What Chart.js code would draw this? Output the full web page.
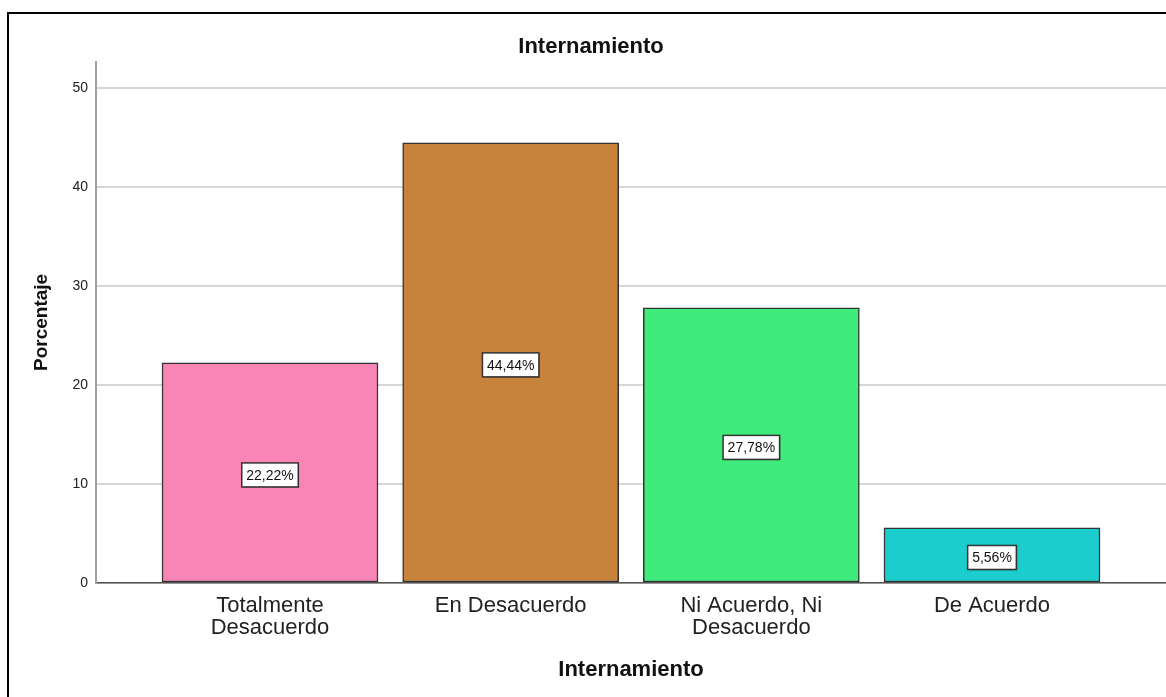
<!DOCTYPE html>
<html>
<head>
<meta charset="utf-8">
<script src="https://cdn.jsdelivr.net/npm/chart.js@4.4.0/dist/chart.umd.min.js"></script>
<style>
  html, body { margin: 0; padding: 0; background: #ffffff; }
  #wrap { position: relative; width: 1166px; height: 697px; overflow: hidden; }
  #frame { position: absolute; left: 7px; top: 12px; width: 1300px; height: 800px;
           border-left: 2px solid #000; border-top: 2px solid #000; }
  #c { position: absolute; left: 0; top: 0; }
</style>
</head>
<body>
<div id="wrap">
  <div id="frame"></div>
  <canvas id="c" width="1166" height="697"></canvas>
</div>
<script>
// ---- data ----
const categories = [['Totalmente', 'Desacuerdo'], 'En Desacuerdo', ['Ni Acuerdo, Ni', 'Desacuerdo'], 'De Acuerdo'];
const percentages = [22.22, 44.44, 27.78, 5.56];
const yTicks = [0, 10, 20, 30, 40, 50];
const chartTitle = 'Internamiento';
const xTitle = 'Internamiento';
const yTitle = 'Porcentaje';
const barColors = ['#F984B6', '#C7823C', '#3FEB7A', '#1BCDCD'];

const FONT = "'Liberation Sans', Arial, sans-serif";

const points = percentages.map((v, i) => ({ x: i, y: v }));

const labelPlugin = {
  id: 'barLabels',
  afterDatasetsDraw(chart) {
    const ctx = chart.ctx;
    const meta = chart.getDatasetMeta(0);
    ctx.save();
    ctx.font = '14px ' + FONT;
    ctx.textAlign = 'center';
    ctx.textBaseline = 'middle';
    meta.data.forEach((bar, i) => {
      const txt = percentages[i].toFixed(2).replace('.', ',') + '%';
      const w = ctx.measureText(txt).width + 9;
      const h = 24;
      const cx = bar.x;
      const cy = (bar.y + bar.base) / 2 + 2.5;
      ctx.fillStyle = 'rgba(0,0,0,0.25)';
      ctx.fillRect(cx - w / 2 + 1, cy - h / 2 + 1, w, h);
      ctx.fillStyle = '#ffffff';
      ctx.fillRect(cx - w / 2, cy - h / 2, w, h);
      ctx.strokeStyle = '#333333';
      ctx.lineWidth = 1.5;
      ctx.strokeRect(cx - w / 2, cy - h / 2, w, h);
      ctx.fillStyle = '#111111';
      ctx.fillText(txt, cx, cy + 1);
    });
    ctx.restore();
  }
};

new Chart(document.getElementById('c'), {
  type: 'bar',
  data: {
    datasets: [{
      data: points,
      backgroundColor: barColors,
      borderColor: '#333333',
      borderWidth: 1.5,
      borderSkipped: false,
      barThickness: 216
    }]
  },
  options: {
    responsive: false,
    animation: false,
    layout: { padding: { left: 16, right: 0, top: 0, bottom: 0 } },
    plugins: {
      legend: { display: false },
      tooltip: { enabled: false },
      title: {
        display: true,
        text: chartTitle,
        color: '#111111',
        font: { family: FONT, size: 22, weight: 'bold', lineHeight: 1.2 },
        padding: { top: 33.5, bottom: 2 }
      }
    },
    scales: {
      x: {
        type: 'linear',
        min: -0.723,
        max: 3.723,
        offset: false,
        afterBuildTicks(s) { s.ticks = categories.map((c, i) => ({ value: i })); },
        afterFit(s) { s.height = 114; },
        grid: { display: false, drawTicks: false },
        border: { display: true, color: '#555555', width: 1.5 },
        ticks: {
          maxRotation: 0,
          autoSkip: false,
          padding: 12,
          color: '#222222',
          font: { family: FONT, size: 22, lineHeight: 1.0 },
          callback: (v) => categories[v]
        },
        title: {
          display: true,
          text: xTitle,
          color: '#111111',
          font: { family: FONT, size: 22, weight: 'bold', lineHeight: 1.2 },
          padding: { top: 4, bottom: 14 }
        }
      },
      y: {
        min: 0,
        max: 52.6,
        afterBuildTicks(s) { s.ticks = yTicks.map(v => ({ value: v })); },
        afterFit(s) { s.width = 80; },
        grid: { color: '#d6d6d6', lineWidth: 2, drawTicks: false },
        border: { display: true, color: '#a0a0a0', width: 2 },
        ticks: {
          padding: 8,
          color: '#222222',
          font: { family: FONT, size: 14 }
        },
        title: {
          display: true,
          text: yTitle,
          color: '#111111',
          font: { family: FONT, size: 19, weight: 'bold', lineHeight: 1.2 },
          padding: { top: 14, bottom: 0 }
        }
      }
    }
  },
  plugins: [labelPlugin]
});
</script>
</body>
</html>
